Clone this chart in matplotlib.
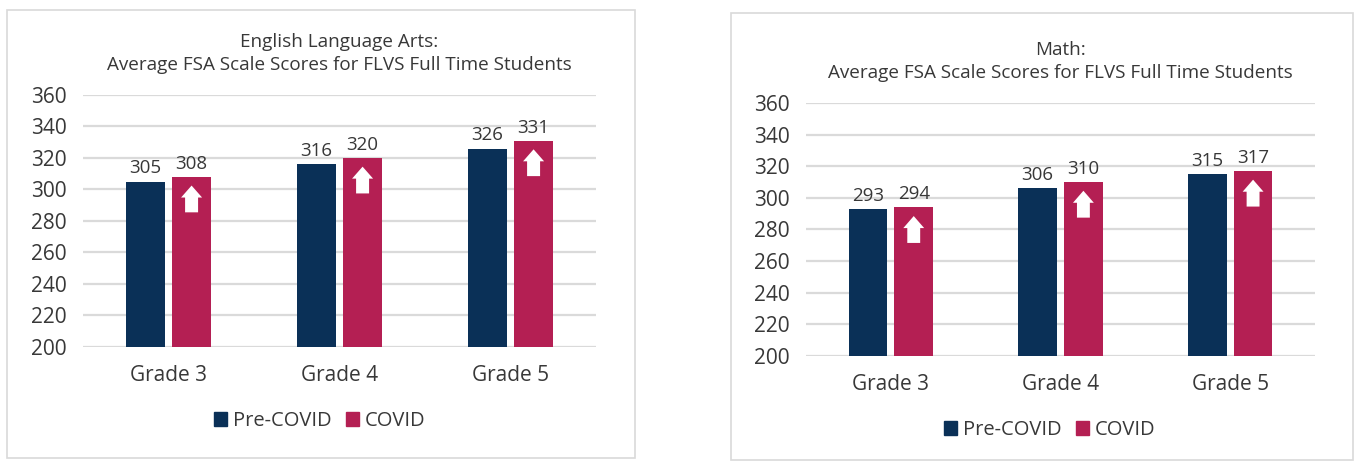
import numpy as np
import matplotlib
matplotlib.use("Agg")
import matplotlib.pyplot as plt
from matplotlib.patches import Rectangle, Patch, FancyArrow

plt.rcParams['font.family'] = ['Open Sans', 'DejaVu Sans']

grades = ["Grade 3", "Grade 4", "Grade 5"]
series = ["Pre-COVID", "COVID"]
ela_pre = [305, 316, 326]
ela_covid = [308, 320, 331]
math_pre = [293, 306, 315]
math_covid = [294, 310, 317]
yticks = [200, 220, 240, 260, 280, 300, 320, 340, 360]

navy = "#0a3057"
crimson = "#b41f53"
grid_c = "#dadada"
text_c = "#383838"

W, H = 1364, 470
fig = plt.figure(figsize=(W / 100, H / 100), dpi=100)


def px_box(x0, y0, x1, y1):
    # pixel box (top-left origin) -> figure fraction [left, bottom, width, height]
    return [x0 / W, 1 - y1 / H, (x1 - x0) / W, (y1 - y0) / H]


def panel(ax, title, pre, covid):
    x = np.arange(len(grades))
    bw = 0.228
    off = 0.135
    ax.bar(x - off, pre, bw, color=navy, zorder=3)
    ax.bar(x + off, covid, bw, color=crimson, zorder=3)
    ax.set_ylim(200, 360)
    ax.set_xlim(-0.5, len(grades) - 0.5)
    ax.set_yticks(yticks)
    ax.set_xticks(x)
    ax.set_xticklabels(grades)
    ax.yaxis.grid(True, color=grid_c, lw=1.6, zorder=0)
    ax.set_axisbelow(True)
    for s in ax.spines.values():
        s.set_visible(False)
    ax.tick_params(axis="y", length=0, pad=12, labelsize=15, labelcolor=text_c)
    ax.tick_params(axis="x", length=0, pad=13, labelsize=15, labelcolor=text_c)
    for xi, v in zip(x - off, pre):
        ax.annotate(str(v), (xi, v), xytext=(0, 3), textcoords="offset points",
                    ha="center", va="bottom", fontsize=13.5, color=text_c)
    for xi, v in zip(x + off, covid):
        ax.annotate(str(v), (xi, v), xytext=(0, 3), textcoords="offset points",
                    ha="center", va="bottom", fontsize=13.5, color=text_c)
        # white up arrow inside the COVID bar
        ax.add_patch(FancyArrow(xi, v - 22.5, 0, 17, width=0.076, head_width=0.123,
                                head_length=7.6, length_includes_head=True,
                                color="white", lw=0, zorder=4))
    ax.set_title(title, fontsize=13.6, color=text_c, pad=18, linespacing=1.35)


ax1 = fig.add_axes(px_box(83, 95, 596, 347))
panel(ax1, "English Language Arts:\nAverage FSA Scale Scores for FLVS Full Time Students",
      ela_pre, ela_covid)
ax2 = fig.add_axes(px_box(806, 103, 1315, 356))
panel(ax2, "Math:\nAverage FSA Scale Scores for FLVS Full Time Students",
      math_pre, math_covid)

handles = [Patch(color=navy), Patch(color=crimson)]
for cx, cy in [(320, 421), (1050, 430)]:
    fig.legend(handles, series, loc="center", bbox_to_anchor=(cx / W, 1 - cy / H),
               ncol=2, frameon=False, fontsize=14.5, handlelength=0.65, handleheight=0.65,
               handletextpad=0.3, columnspacing=0.7, labelcolor=text_c)

# panel frames
for x0, y0, x1, y1 in [(7, 10, 635, 458), (731, 13, 1353, 460)]:
    l, b, w, h = px_box(x0, y0, x1, y1)
    fig.patches.append(Rectangle((l, b), w, h, transform=fig.transFigure,
                                 fill=False, edgecolor="#d9d9d9", lw=1.2))

fig.savefig("out.png", dpi=100)
